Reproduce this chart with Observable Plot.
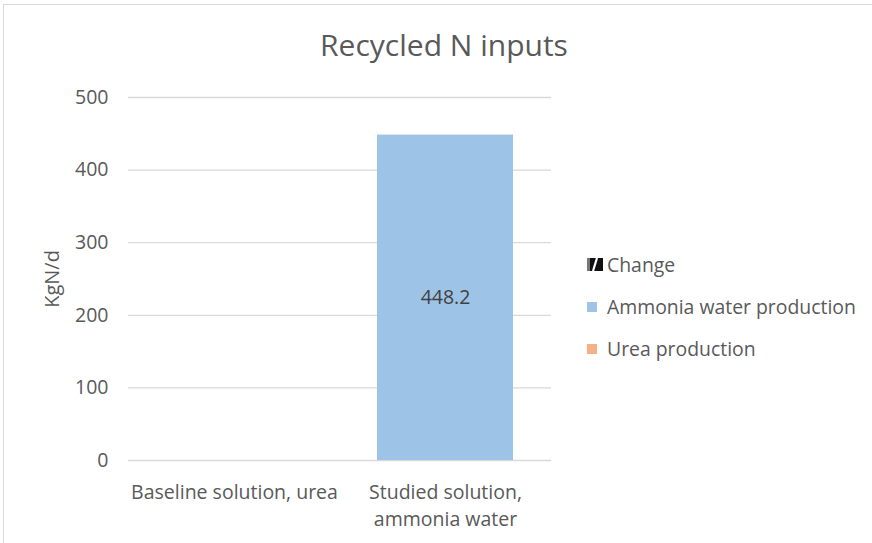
<!DOCTYPE html>
<html>
<head>
<meta charset="utf-8">
<script src="https://cdn.jsdelivr.net/npm/d3@7"></script>
<script src="https://cdn.jsdelivr.net/npm/@observablehq/plot@0.6"></script>
<style>
  html, body { margin: 0; padding: 0; background: #fff; }
  #wrap { position: relative; width: 872px; height: 543px; overflow: hidden; font-family: "Open Sans", Lato, sans-serif; color: #595959; }
  #frame { position: absolute; left: 3px; top: 4px; width: 900px; height: 600px; border: 1px solid #d9d9d9; box-sizing: border-box; pointer-events: none; }
  #title { position: absolute; left: 0; width: 888px; top: 27px; text-align: center; font-size: 30px; color: #595959; line-height: 1.2; }
  .leg { position: absolute; left: 587px; font-size: 19.4px; color: #595959; display: flex; align-items: center; white-space: nowrap; line-height: 1.2; }
  .sw { width: 10px; height: 10px; margin-right: 10px; display: inline-block; }
</style>
</head>
<body>
<div id="wrap">
  <div id="chart"></div>
  <div id="frame"></div>
  <div id="title"></div>
  <div id="legend"></div>
</div>
<script>
const title = "Recycled N inputs";
const categories = ["Baseline solution, urea", "Studied solution, ammonia water"];
const xTickLabels = ["Baseline solution, urea", "Studied solution,\nammonia water"];
const ureaProduction = [0, 0];
const ammoniaWaterProduction = [0, 448.2];
const change = [0, 0];
const yTicks = [0, 100, 200, 300, 400, 500];
const yLabel = "KgN/d";
const seriesNames = ["Change", "Ammonia water production", "Urea production"];
const seriesColors = ["#000000", "#9dc3e6", "#f4b183"];

const rows = [];
categories.forEach((c, i) => {
  rows.push({cat: c, series: "Urea production", value: ureaProduction[i]});
  rows.push({cat: c, series: "Ammonia water production", value: ammoniaWaterProduction[i]});
});
const labelRows = categories.map((c, i) => ({cat: c, value: ammoniaWaterProduction[i]})).filter(d => d.value > 0);

const plot = Plot.plot({
  width: 872,
  height: 543,
  marginLeft: 128,
  marginRight: 321,
  marginTop: 97,
  marginBottom: 83,
  style: {fontFamily: "'Open Sans', Lato, sans-serif", background: "white", color: "#595959"},
  x: {domain: categories, paddingInner: 0.357, paddingOuter: 0.1785},
  y: {domain: [0, 500]},
  color: {domain: seriesNames, range: seriesColors},
  marks: [
    Plot.gridY(yTicks, {stroke: "#d9d9d9", strokeOpacity: 1, strokeWidth: 1.3}),
    Plot.barY(rows, Plot.stackY({x: "cat", y: "value", fill: "series", order: ["Urea production", "Ammonia water production"]})),
    Plot.text(labelRows, {x: "cat", y: d => d.value / 2, text: d => d.value.toFixed(1), fontSize: 19.5, fill: "#404040"}),
    Plot.axisY({ticks: yTicks, tickSize: 0, tickPadding: 20, fontSize: 19.5, label: null, fill: "#595959"}),
    Plot.axisX({tickSize: 0, tickPadding: 19, fontSize: 19.5, lineHeight: 1.38, label: null, fill: "#595959", tickFormat: d => xTickLabels[categories.indexOf(d)]}),
    Plot.text([yLabel], {frameAnchor: "left", textAnchor: "middle", dx: -76, dy: 0, rotate: -90, fontSize: 20, fill: "#595959", text: d => d})
  ]
});
document.getElementById("chart").appendChild(plot);
document.getElementById("title").textContent = title;

const legend = document.getElementById("legend");
const tops = [253, 295, 337];
seriesNames.forEach((name, i) => {
  const el = document.createElement("div");
  el.className = "leg";
  el.style.top = tops[i] + "px";
  let sw;
  if (i === 0) {
    sw = `<svg width="16" height="13" style="margin-right:4px"><rect x="0" y="0" width="16" height="13" fill="#111"/><rect x="0" y="0" width="3" height="13" fill="#777"/><path d="M10 0 L6 13" stroke="#fff" stroke-width="2.2"/></svg>`;
  } else {
    sw = `<span class="sw" style="background:${seriesColors[i]}"></span>`;
  }
  el.innerHTML = sw + `<span>${name}</span>`;
  legend.appendChild(el);
});
</script>
</body>
</html>
